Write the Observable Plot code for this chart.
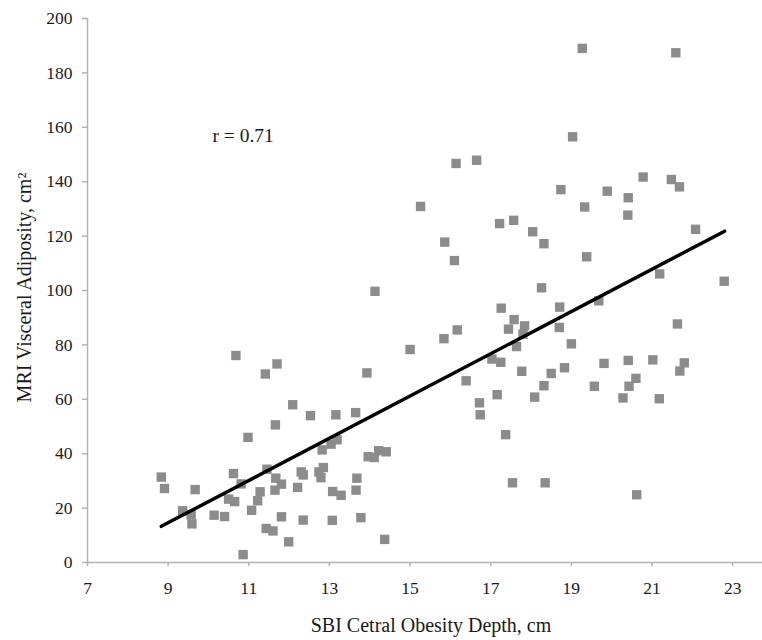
<!DOCTYPE html>
<html>
<head>
<meta charset="utf-8">
<script src="https://cdn.jsdelivr.net/npm/d3@7"></script>
<script src="https://cdn.jsdelivr.net/npm/@observablehq/plot@0.6"></script>
<style>
  html, body { margin: 0; padding: 0; background: #ffffff; }
  #chart svg, #chart svg g, #chart svg text {
    font-family: "Liberation Serif", "Times New Roman", serif !important;
    font-variant: normal !important;
    font-variant-numeric: normal !important;
  }
</style>
</head>
<body>
<div id="chart"></div>
<script>
// SBI central obesity depth (cm)
const depth = [
  8.83, 8.91, 9.36, 9.57, 9.59, 9.67, 10.14, 10.40, 10.62, 10.50,
  10.65, 10.81, 10.98, 10.86, 11.07, 11.22, 11.28, 11.43, 11.45, 11.60,
  11.65, 11.67, 11.81, 11.81, 11.66, 11.99, 12.09, 12.21, 12.30, 12.35,
  12.35, 12.53, 12.74, 12.79, 12.85, 12.82, 13.04, 13.19, 13.16, 13.08,
  13.07, 13.29, 13.65, 13.68, 13.66, 13.78, 13.96, 14.11, 14.22, 14.41,
  14.37, 10.68, 11.41, 11.70,
  15.26, 15.86, 16.10, 14.13, 15.00, 15.84, 16.17, 16.39, 13.93,
  19.03, 16.14, 16.65, 18.74, 19.89, 19.33, 17.22, 17.57, 18.04, 18.32,
  19.38, 18.26, 19.68, 17.26, 18.71, 17.58, 17.84, 17.44, 18.70, 17.80,
  17.64, 19.00, 17.03, 17.25, 19.81, 17.77, 18.83, 18.50, 18.32, 19.57,
  17.16, 18.09, 16.72, 16.74, 17.37, 17.54, 18.35,
  19.27, 21.59, 20.78, 21.48, 21.68, 20.41, 20.40, 22.08, 21.19, 22.79,
  21.63, 20.41, 21.02, 21.80, 21.69, 20.60, 20.43, 20.28, 21.18, 20.62
];
// MRI visceral adiposity (cm²)
const adiposity = [
  31.4, 27.2, 19.0, 17.5, 14.2, 26.8, 17.4, 16.9, 32.7, 23.3,
  22.4, 28.9, 46.0, 2.9, 19.2, 22.7, 26.0, 12.5, 34.3, 11.6,
  26.6, 31.0, 28.8, 16.8, 50.6, 7.6, 58.0, 27.6, 33.3, 32.2,
  15.6, 54.0, 33.3, 31.2, 34.9, 41.4, 43.5, 45.1, 54.3, 26.1,
  15.5, 24.7, 55.1, 31.0, 26.6, 16.5, 38.9, 38.6, 41.1, 40.7,
  8.5, 76.1, 69.3, 73.0,
  130.9, 117.8, 111.0, 99.7, 78.3, 82.3, 85.5, 66.8, 69.7,
  156.5, 146.7, 147.9, 137.1, 136.5, 130.7, 124.6, 125.8, 121.6, 117.2,
  112.4, 101.0, 96.2, 93.5, 93.9, 89.3, 87.0, 85.8, 86.4, 84.0,
  79.4, 80.4, 74.8, 73.6, 73.2, 70.3, 71.6, 69.5, 65.0, 64.8,
  61.7, 60.8, 58.7, 54.3, 47.0, 29.3, 29.3,
  189.0, 187.4, 141.7, 140.8, 138.1, 134.1, 127.7, 122.5, 106.1, 103.4,
  87.7, 74.3, 74.5, 73.4, 70.4, 67.7, 64.8, 60.5, 60.2, 24.9
];
// fitted regression line end points
const fitDepth = [8.83, 22.80];
const fitAdiposity = [13.3, 121.8];

const xTicks = [7, 9, 11, 13, 15, 17, 19, 21, 23];
const yTicks = [0, 20, 40, 60, 80, 100, 120, 140, 160, 180, 200];

const corrLabel = "r = 0.71";
const xTitle = "SBI Cetral Obesity Depth, cm";
const yTitle = "MRI Visceral Adiposity, cm²";

const points = depth.map((d, i) => ({x: d, y: adiposity[i]}));
const fit = fitDepth.map((d, i) => ({x: d, y: fitAdiposity[i]}));

const axisGray = "#b3b3b3";
const font = "Liberation Serif";
const textColor = "#1a1a1a";

const chart = Plot.plot({
  width: 762,
  height: 640,
  marginLeft: 87,
  marginRight: 0,
  marginTop: 18,
  marginBottom: 78,
  style: {fontFamily: font, background: "#ffffff", color: "#222"},
  x: {domain: [7, 23.74]},
  y: {domain: [0, 200]},
  marks: [
    Plot.ruleY([0], {stroke: axisGray, strokeWidth: 1.5}),
    Plot.ruleX([7], {stroke: axisGray, strokeWidth: 1.5}),
    Plot.axisX(xTicks, {tickSize: 4, tickPadding: 15, stroke: axisGray, strokeWidth: 1.5, fill: textColor, fontSize: 17.5, fontFamily: font, fontVariant: "normal", label: null}),
    Plot.axisY(yTicks, {tickSize: 5, tickPadding: 10, stroke: axisGray, strokeWidth: 1.5, fill: textColor, fontSize: 17.5, fontFamily: font, fontVariant: "normal", label: null}),
    Plot.dot(points, {x: "x", y: "y", symbol: "square", r: 5.3, fill: "#8c8c8c", stroke: "none"}),
    Plot.line(fit, {x: "x", y: "y", stroke: "#000", strokeWidth: 3.5}),
    Plot.text([corrLabel], {frameAnchor: "top-left", dx: 125, dy: 110, textAnchor: "start", fontSize: 19.5, fontFamily: font, fill: textColor}),
    Plot.text([xTitle], {frameAnchor: "bottom", dx: 6, dy: 69, textAnchor: "middle", fontSize: 20, fontFamily: font, fill: textColor}),
    Plot.text([yTitle], {frameAnchor: "left", rotate: -90, dx: -63, dy: -3, textAnchor: "middle", fontSize: 20, fontFamily: font, fill: textColor})
  ]
});
d3.select(chart).selectAll("text").attr("font-variant", null).attr("font-family", "Liberation Serif");
document.getElementById("chart").appendChild(chart);
</script>
</body>
</html>
